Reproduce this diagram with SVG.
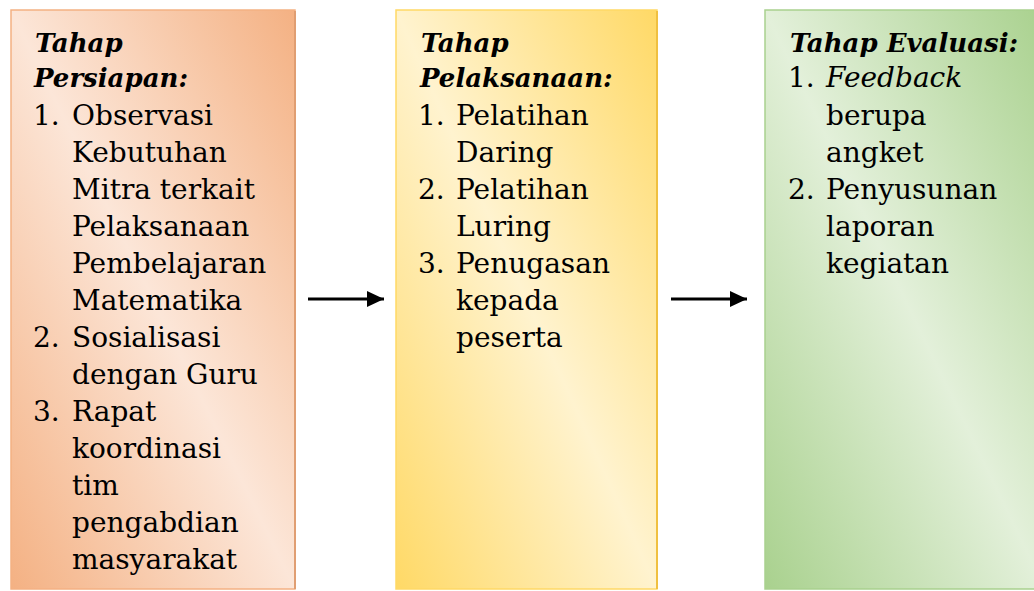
<svg xmlns="http://www.w3.org/2000/svg" width="1034" height="591" viewBox="0 0 1034 591">
<defs>
<linearGradient id="gOrange" x1="1" y1="0" x2="0" y2="1">
<stop offset="0" stop-color="#F4B183"/><stop offset="0.5" stop-color="#FCE6D8"/><stop offset="1" stop-color="#F4B183"/>
</linearGradient>
<linearGradient id="gYellow" x1="1" y1="0" x2="0" y2="1">
<stop offset="0" stop-color="#FFD966"/><stop offset="0.5" stop-color="#FFF3CF"/><stop offset="1" stop-color="#FFD966"/>
</linearGradient>
<linearGradient id="gGreen" x1="1" y1="0" x2="0" y2="1">
<stop offset="0" stop-color="#A9D18E"/><stop offset="0.5" stop-color="#E3F0DA"/><stop offset="1" stop-color="#A9D18E"/>
</linearGradient>
<marker id="arrow" markerWidth="17" markerHeight="16" refX="17" refY="8" orient="auto" markerUnits="userSpaceOnUse" viewBox="0 0 17 16">
<path d="M0,0 L17,8 L0,16 Z" fill="#000"/>
</marker>
</defs>
<style>
text{font-family:"DejaVu Serif",serif;font-size:28px;fill:#000}
.t{font-weight:bold;font-style:italic;font-size:26px}
.i{font-style:italic}
.conn line{stroke:#000;stroke-width:3}
</style>
<rect width="1034" height="591" fill="#fff"/>
<g id="persiapan">
<rect x="11" y="10" width="284" height="579" fill="url(#gOrange)" stroke="#F4B183" stroke-width="1.5"/>
<line x1="295" y1="11" x2="295" y2="589" stroke="#E09E72" stroke-width="2"/>
<text class="t" x="35" y="52">Tahap</text>
<text class="t" x="34" y="87">Persiapan:</text>
<text x="33" y="125">1.</text><text x="72" y="125">Observasi</text>
<text x="72" y="162">Kebutuhan</text>
<text x="72" y="199">Mitra terkait</text>
<text x="72" y="236">Pelaksanaan</text>
<text x="72" y="273">Pembelajaran</text>
<text x="72" y="310">Matematika</text>
<text x="33" y="347">2.</text><text x="72" y="347">Sosialisasi</text>
<text x="72" y="384">dengan Guru</text>
<text x="33" y="421">3.</text><text x="72" y="421">Rapat</text>
<text x="72" y="458">koordinasi</text>
<text x="72" y="495">tim</text>
<text x="72" y="532">pengabdian</text>
<text x="72" y="569">masyarakat</text>
</g>
<g id="pelaksanaan">
<rect x="396" y="10" width="261" height="579" fill="url(#gYellow)" stroke="#FFD966" stroke-width="1.5"/>
<line x1="657" y1="11" x2="657" y2="589" stroke="#F0C040" stroke-width="2"/>
<text class="t" x="421" y="52">Tahap</text>
<text class="t" x="420" y="87">Pelaksanaan:</text>
<text x="418" y="125">1.</text><text x="456" y="125">Pelatihan</text>
<text x="456" y="162">Daring</text>
<text x="418" y="199">2.</text><text x="456" y="199">Pelatihan</text>
<text x="456" y="236">Luring</text>
<text x="418" y="273">3.</text><text x="456" y="273">Penugasan</text>
<text x="456" y="310">kepada</text>
<text x="456" y="347">peserta</text>
</g>
<g id="evaluasi">
<rect x="765" y="10" width="280" height="579" fill="url(#gGreen)" stroke="#A9D18E" stroke-width="1.5"/>
<text class="t" x="790" y="52">Tahap Evaluasi:</text>
<text x="788" y="87">1.</text><text class="i" x="826" y="87">Feedback</text>
<text x="826" y="125">berupa</text>
<text x="826" y="162">angket</text>
<text x="788" y="199">2.</text><text x="826" y="199">Penyusunan</text>
<text x="826" y="236">laporan</text>
<text x="826" y="273">kegiatan</text>
</g>
<g class="conn" id="connectors">
<line x1="308" y1="299" x2="384" y2="299" marker-end="url(#arrow)"/>
<line x1="671" y1="299" x2="747" y2="299" marker-end="url(#arrow)"/>
</g>
</svg>
